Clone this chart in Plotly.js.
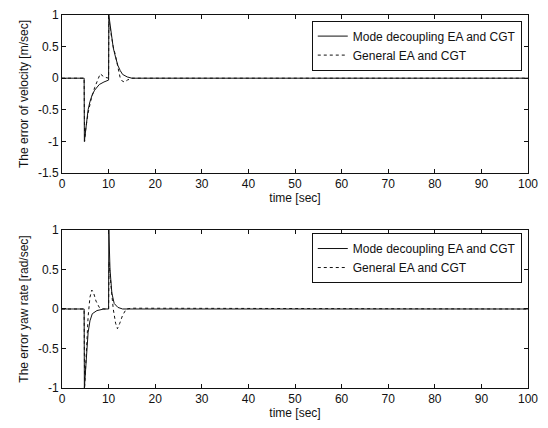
<!DOCTYPE html>
<html><head><meta charset="utf-8">
<script src="https://cdn.plot.ly/plotly-3.0.1.min.js"></script>
<style>html,body{margin:0;padding:0;background:#fff}#chart{width:548px;height:428px}</style>
</head><body><div id="chart"></div>
<script>
// Velocity error (top panel)
const velTimeMode = [0, 4.75, 4.8, 5.0, 5.3, 5.6, 6.0, 6.5, 7.0, 7.5, 8.0, 9.0, 10.0, 10.05, 10.3, 10.7, 11.0, 11.5, 12.0, 12.5, 13.0, 14.0, 15.0, 20, 100];
const velMode     = [0, 0, -1.0, -0.85, -0.65, -0.5, -0.37, -0.26, -0.19, -0.14, -0.1, -0.06, -0.03, 1.0, 0.85, 0.6, 0.48, 0.33, 0.2, 0.12, 0.06, 0.02, 0, 0, 0];
const velTimeGen  = [0, 4.75, 4.85, 5.1, 5.6, 6.2, 7.0, 7.8, 8.2, 9.0, 10.0, 10.05, 10.5, 11.0, 11.5, 12.0, 12.5, 13.0, 13.5, 14.0, 15.0, 100];
const velGen      = [0, 0, -1.0, -0.8, -0.55, -0.35, -0.15, 0.02, 0.07, 0.02, 0, 0.9, 0.7, 0.5, 0.35, 0.15, 0.0, -0.05, -0.06, -0.03, 0, 0];
// Yaw-rate error (bottom panel)
const yawTimeMode = [0, 4.75, 4.8, 5.2, 5.6, 6.0, 6.5, 7.5, 9.0, 10.0, 10.05, 10.3, 10.7, 11.2, 12.0, 13.0, 100];
const yawMode     = [0, 0, -1.0, -0.6, -0.3, -0.15, -0.06, -0.02, 0, 0, 1.0, 0.5, 0.2, 0.07, 0.02, 0, 0];
const yawTimeGen  = [0, 4.75, 4.85, 5.2, 5.6, 6.0, 6.4, 6.8, 7.3, 8.0, 9.0, 10.0, 10.1, 10.5, 11.0, 11.5, 11.9, 12.4, 13.0, 13.8, 15.0, 100];
const yawGen      = [0, 0, -1.0, -0.5, -0.1, 0.15, 0.24, 0.2, 0.1, 0.02, 0, 0, 0.6, 0.3, 0.0, -0.18, -0.25, -0.18, -0.08, 0, 0.01, 0];

const seriesNames = ["Mode decoupling EA and CGT", "General EA and CGT"];
const xTicks = [0, 10, 20, 30, 40, 50, 60, 70, 80, 90, 100];
const yTicksTop = [1, 0.5, 0, -0.5, -1, -1.5];
const yTickTextTop = ["1", "0.5", "0", "-0.5", "-1", "-1.5"];
const yTicksBot = [1, 0.5, 0, -0.5, -1];
const yTickTextBot = ["1", "0.5", "0", "-0.5", "-1"];

const font = {family: "Liberation Sans, Arial, sans-serif", size: 12, color: "#111"};
const lineS = {color: "#111", width: 1};
const lineD = {color: "#111", width: 1, dash: "dot"};

const traces = [
  {x: velTimeMode, y: velMode, name: seriesNames[0], mode: "lines", line: lineS, xaxis: "x", yaxis: "y", legend: "legend"},
  {x: velTimeGen, y: velGen, name: seriesNames[1], mode: "lines", line: lineD, xaxis: "x", yaxis: "y", legend: "legend"},
  {x: yawTimeMode, y: yawMode, name: seriesNames[0], mode: "lines", line: lineS, xaxis: "x2", yaxis: "y2", legend: "legend2"},
  {x: yawTimeGen, y: yawGen, name: seriesNames[1], mode: "lines", line: lineD, xaxis: "x2", yaxis: "y2", legend: "legend2"}
];

const axBase = {showline: true, mirror: "ticks", linecolor: "#111", linewidth: 1, ticks: "inside", ticklen: 4, tickcolor: "#111",
  showgrid: false, zeroline: false, tickfont: font};

const legBase = {bordercolor: "#111", borderwidth: 1, bgcolor: "#fff", font: {family: font.family, size: 12, color: "#111"},
  xanchor: "left", yanchor: "top", tracegroupgap: 0, itemwidth: 30, traceorder: "normal"};

const layout = {
  width: 548, height: 428,
  margin: {l: 62, r: 20, t: 15, b: 40},
  paper_bgcolor: "#fff", plot_bgcolor: "#fff",
  font: font,
  showlegend: true,
  xaxis: Object.assign({}, axBase, {domain: [0, 1], range: [0, 100], tickvals: xTicks, anchor: "y",
    title: {text: "time [sec]", font: font, standoff: 3}}),
  yaxis: Object.assign({}, axBase, {domain: [0.5764, 1], range: [-1.5, 1], tickvals: yTicksTop, ticktext: yTickTextTop, anchor: "x",
    title: {text: "The error of velocity [m/sec]", font: font, standoff: 6}}),
  xaxis2: Object.assign({}, axBase, {domain: [0, 1], range: [0, 100], tickvals: xTicks, anchor: "y2",
    title: {text: "time [sec]", font: font, standoff: 3}}),
  yaxis2: Object.assign({}, axBase, {domain: [0, 0.4236], range: [-1, 1], tickvals: yTicksBot, ticktext: yTickTextBot, anchor: "x2",
    title: {text: "The error yaw rate [rad/sec]", font: font, standoff: 6}}),
  legend: Object.assign({}, legBase, {x: 0.536, y: 0.985}),
  legend2: Object.assign({}, legBase, {x: 0.536, y: 0.4155})
};

Plotly.newPlot("chart", traces, layout, {displayModeBar: false, staticPlot: true});
</script></body></html>
